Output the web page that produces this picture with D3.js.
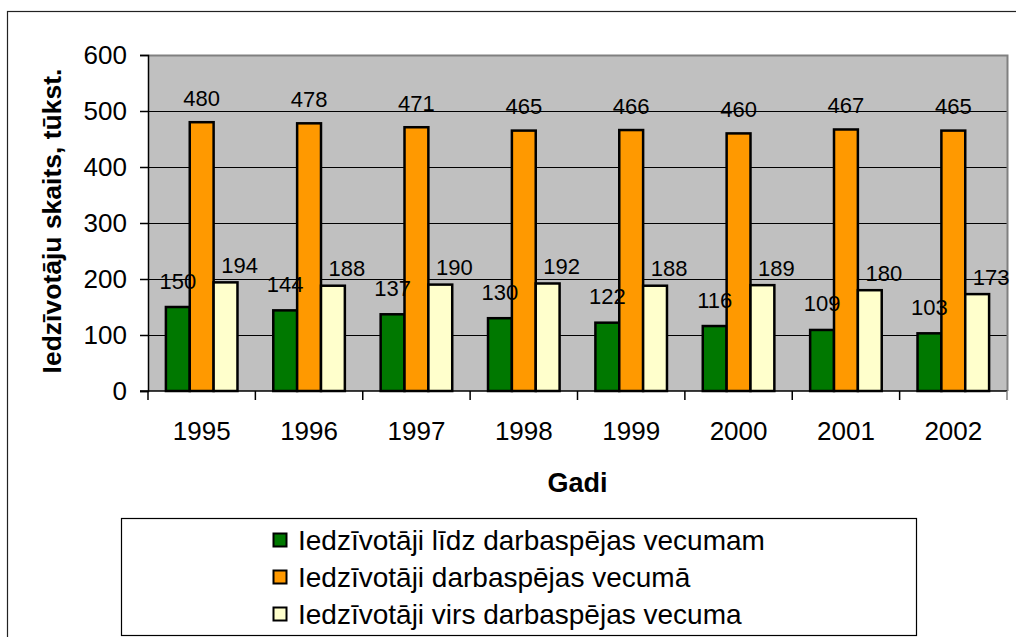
<!DOCTYPE html>
<html><head><meta charset="utf-8">
<script src="https://cdn.jsdelivr.net/npm/d3@7"></script>
<style>body{margin:0;background:#fff;} svg{display:block;font-family:Arial,"Liberation Sans",sans-serif;}</style>
</head><body>
<svg id="c" width="1016" height="637"></svg>
<script>
const years = ["1995","1996","1997","1998","1999","2000","2001","2002"];
const seriesNames = ["Iedzīvotāji līdz darbaspējas vecumam","Iedzīvotāji darbaspējas vecumā","Iedzīvotāji virs darbaspējas vecuma"];
const belowAge = [150,144,137,130,122,116,109,103];
const workingAge = [480,478,471,465,466,460,467,465];
const aboveAge = [194,188,190,192,188,189,180,173];
const colors = ["#007800","#FF9900","#FFFFCC"];
const yTicks = [0,100,200,300,400,500,600];
const yTitle = "Iedzīvotāju skaits, tūkst.";
const xTitle = "Gadi";

const seriesVals = [belowAge, workingAge, aboveAge];
const svg = d3.select("#c");
const L=148, R=1007, T=55, B=391;

// outer chart border
svg.append("rect").attr("x",7.5).attr("y",11.5).attr("width",1020).attr("height",640)
  .attr("fill","#fff").attr("stroke","#222").attr("stroke-width",1.2);

const x = d3.scaleBand().domain(years).range([L,R]).padding(0);
const bw = x.bandwidth();
const gw = bw*3/4.5;
const x1 = d3.scaleBand().domain(d3.range(3)).range([(bw-gw)/2,(bw+gw)/2]).padding(0);
const y = d3.scaleLinear().domain([0,600]).range([B,T]);

// plot bg
svg.append("rect").attr("x",L).attr("y",T).attr("width",R-L).attr("height",B-T).attr("fill","#C0C0C0");
// gridlines
svg.append("g").selectAll("line").data(yTicks.filter(v=>v>0&&v<600)).join("line")
  .attr("x1",L).attr("x2",R).attr("y1",d=>Math.round(y(d))+0.5).attr("y2",d=>Math.round(y(d))+0.5)
  .attr("stroke","#000").attr("stroke-width",1);
// plot border top/right gray
svg.append("path").attr("d",`M${L},${T+0.5}H${R+0.5}V${B}`).attr("fill","none").attr("stroke","#808080").attr("stroke-width",2);

// bars
const g = svg.append("g");
years.forEach((yr,i)=>{
  seriesVals.forEach((vals,s)=>{
    g.append("rect")
      .attr("x",x(yr)+x1(s)).attr("y",y(vals[i]))
      .attr("width",x1.bandwidth()).attr("height",y(0)-y(vals[i]))
      .attr("fill",colors[s]).attr("stroke","#000").attr("stroke-width",2.5);
  });
});

// y axis
const yAxis = d3.axisLeft(y).tickValues(yTicks).tickSize(8).tickPadding(13);
const ya = svg.append("g").attr("transform",`translate(${L},0)`).call(yAxis);
ya.select(".domain").attr("stroke","#000").attr("stroke-width",1.5);
ya.selectAll(".tick line").attr("stroke","#000").attr("stroke-width",1.5);
ya.selectAll(".tick text").attr("font-size",26).attr("fill","#000").attr("font-family","Arial, Liberation Sans, sans-serif");

// x axis line with boundary ticks
svg.append("line").attr("x1",L-8).attr("x2",R).attr("y1",B).attr("y2",B).attr("stroke","#000").attr("stroke-width",1.5);
const bounds = years.map(d=>x(d)).concat([R]);
svg.append("g").selectAll("line").data(bounds).join("line")
  .attr("x1",d=>d).attr("x2",d=>d).attr("y1",B).attr("y2",B+9)
  .attr("stroke",(d,i)=>i===bounds.length-1?"#808080":"#000").attr("stroke-width",1.5);
svg.append("g").selectAll("text").data(years).join("text")
  .attr("x",d=>x(d)+bw/2).attr("y",440).attr("text-anchor","middle")
  .attr("font-size",26).attr("fill","#000").text(d=>d);

// data labels
const lab = svg.append("g").attr("font-size",22).attr("fill","#000");
const dy = [26,24,17], dx=[0,0,14];
years.forEach((yr,i)=>{
  seriesVals.forEach((vals,s)=>{
    lab.append("text")
      .attr("x",x(yr)+x1(s)+x1.bandwidth()/2+dx[s])
      .attr("y",y(vals[i])-dy[s])
      .attr("text-anchor","middle").attr("dominant-baseline","central")
      .text(vals[i]);
  });
});

// axis titles
svg.append("text").attr("transform",`translate(61,221) rotate(-90)`)
  .attr("text-anchor","middle").attr("font-size",26.5).attr("font-weight","bold").text(yTitle);
svg.append("text").attr("x",(L+R)/2).attr("y",492).attr("text-anchor","middle")
  .attr("font-size",27).attr("font-weight","bold").text(xTitle);

// legend
svg.append("rect").attr("x",121.5).attr("y",518.5).attr("width",795).attr("height",117)
  .attr("fill","#fff").attr("stroke","#000").attr("stroke-width",1.2);
const lg = svg.append("g");
seriesNames.forEach((n,i)=>{
  const cy = 540 + i*37;
  lg.append("rect").attr("x",273.5).attr("y",cy-6.5).attr("width",13).attr("height",13)
    .attr("fill",colors[i]).attr("stroke","#000").attr("stroke-width",2);
  lg.append("text").attr("x",298).attr("y",cy).attr("dominant-baseline","central")
    .attr("font-size",28).text(n);
});
</script>
</body></html>
